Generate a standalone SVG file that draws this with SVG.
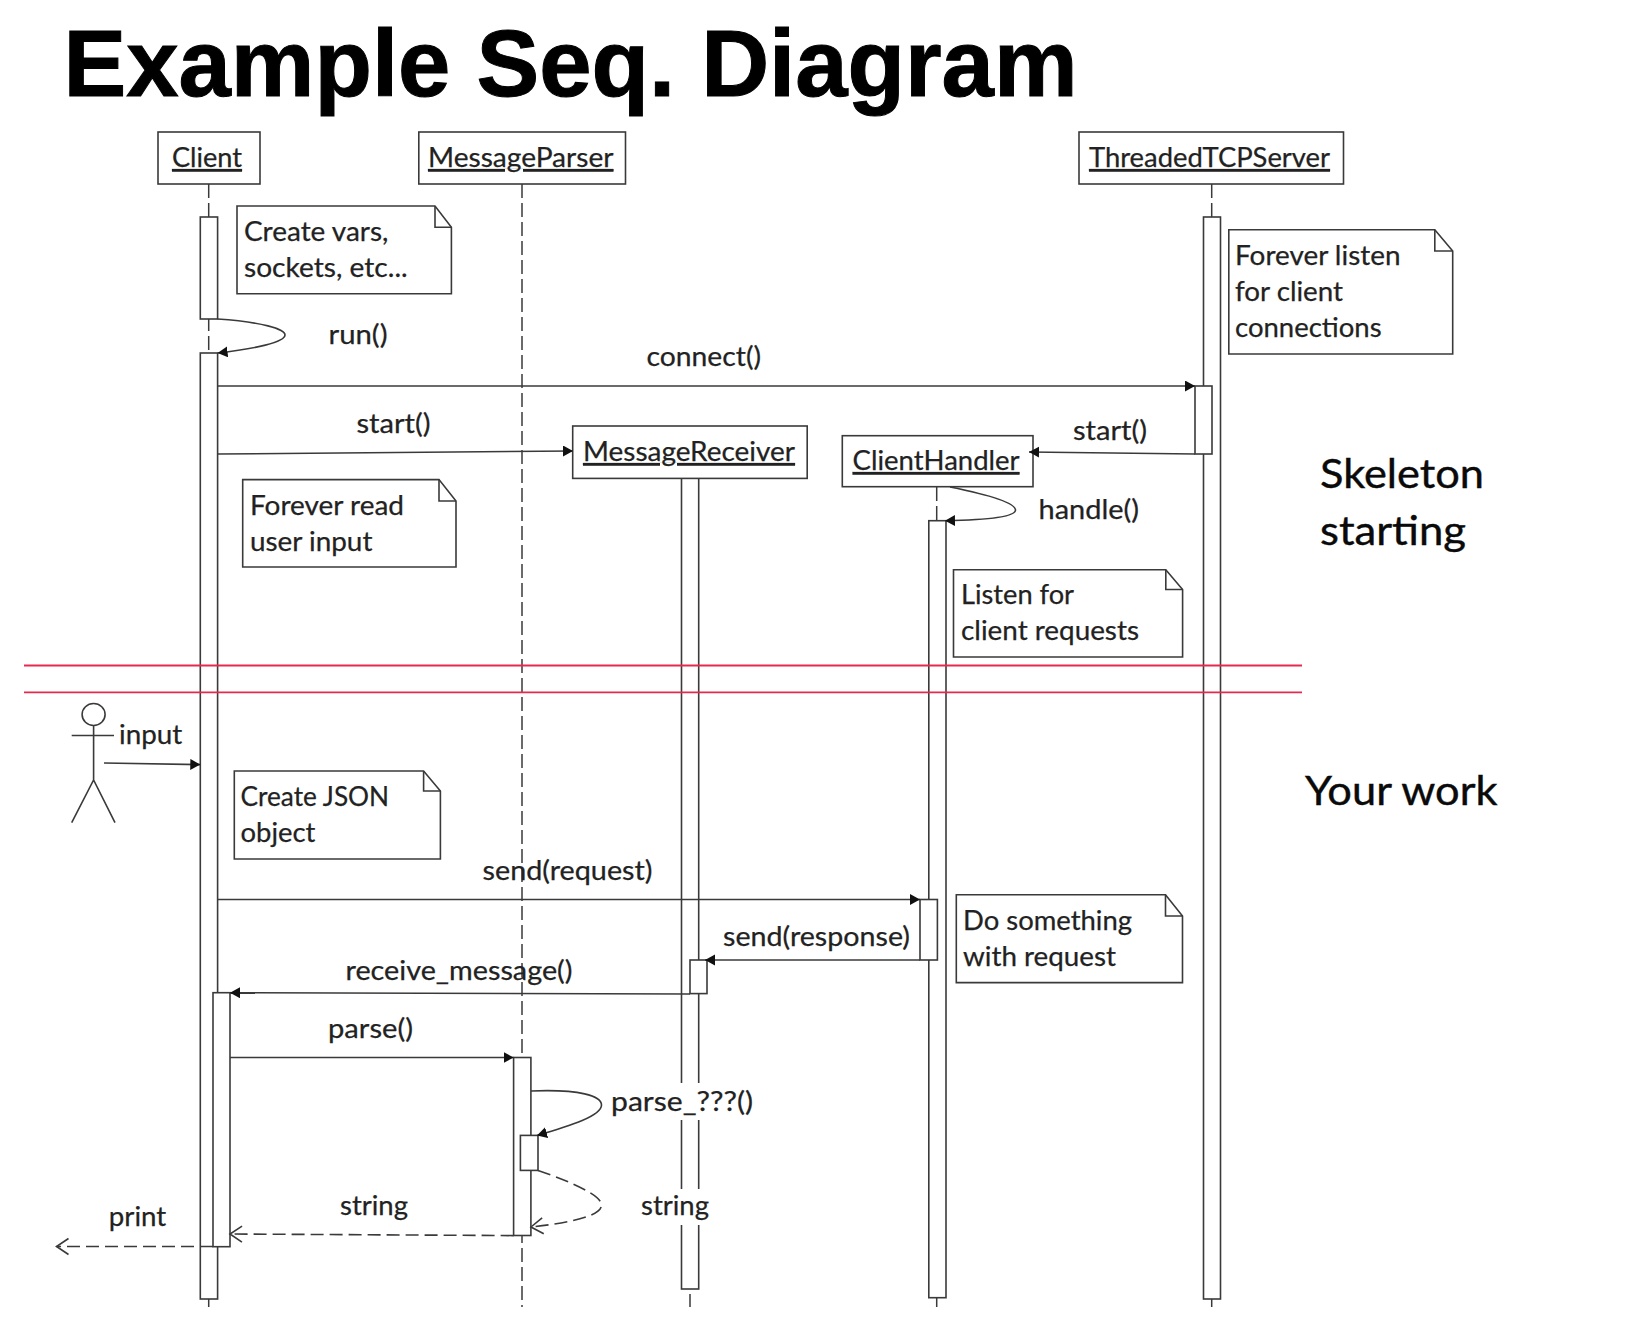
<svg xmlns="http://www.w3.org/2000/svg" width="1644" height="1340" viewBox="0 0 1644 1340">
<style>
text{font-family:Lato,"Liberation Sans",sans-serif;font-size:27px;fill:#222;stroke:#222;stroke-width:.25}
.title{font-family:"Liberation Sans",Arial,sans-serif;font-weight:700;font-size:95px;fill:#000;stroke:#000;stroke-width:1}
.big{font-size:40px;fill:#0a0a0a;stroke:#0a0a0a;stroke-width:.4}
.u{text-decoration:underline}
.b{fill:#fff;stroke:#3a3a3a;stroke-width:1.6}
.l{fill:none;stroke:#3a3a3a;stroke-width:1.6}
.ll{fill:none;stroke:#3a3a3a;stroke-width:1.5;stroke-dasharray:14 5}
.d{stroke-dasharray:13 6}
.red{stroke:#e8284f;stroke-width:1.8;fill:none}
.a{marker-end:url(#solid)}
.o{marker-end:url(#open)}
</style>
<defs>
<marker id="solid" markerUnits="userSpaceOnUse" markerWidth="12" markerHeight="13" refX="10" refY="5.5" orient="auto"><path d="M0 0L10 5.5L0 11Z" fill="#111"/></marker>
<marker id="open" markerUnits="userSpaceOnUse" markerWidth="16" markerHeight="20" refX="13" refY="9" orient="auto"><path d="M1 1L13 9L1 17" fill="none" stroke="#3a3a3a" stroke-width="1.6"/></marker>
</defs>
<rect width="1644" height="1340" fill="#fff"/>
<text class="title" x="63.5" y="96" textLength="1014" lengthAdjust="spacingAndGlyphs">Example Seq. Diagram</text>

<g id="lifelines">
<path class="ll" d="M208.7 184V353M208.7 1299V1307"/>
<path class="ll" d="M522 184V1307"/>
<path class="ll" d="M690 1294V1307"/>
<path class="ll" d="M936.7 487V521M936.7 1298V1307"/>
<path class="ll" d="M1211.7 184V217M1211.7 1299V1307"/>
</g>

<g id="client">
<rect class="b" x="158" y="132" width="102" height="52"/>
<text class="u" x="172" y="167" textLength="70" lengthAdjust="spacingAndGlyphs">Client</text>
<rect class="b" x="200.3" y="217" width="17.3" height="102"/>
<rect class="b" x="200.3" y="353" width="17.3" height="946"/>
<rect class="b" x="213" y="992.7" width="17" height="254"/>
</g>
<g id="message-parser">
<rect class="b" x="418.8" y="132" width="206.7" height="52"/>
<text class="u" x="428" y="167" textLength="185.5" lengthAdjust="spacingAndGlyphs">MessageParser</text>
<rect class="b" x="513.6" y="1057.5" width="17.3" height="178"/>
<rect class="b" x="520.4" y="1135.4" width="17.6" height="35"/>
</g>
<g id="threaded-tcp-server">
<rect class="b" x="1079" y="132" width="264.5" height="52"/>
<text class="u" x="1089" y="167" textLength="241" lengthAdjust="spacingAndGlyphs">ThreadedTCPServer</text>
<rect class="b" x="1203.5" y="217" width="17" height="1082"/>
<rect class="b" x="1195" y="386" width="17" height="68"/>
</g>
<g id="message-receiver">
<rect class="b" x="681.5" y="478" width="17.2" height="811"/>
<rect class="b" x="572.7" y="426" width="234.5" height="52.4"/>
<text class="u" x="583" y="461" textLength="212" lengthAdjust="spacingAndGlyphs">MessageReceiver</text>
<rect class="b" x="690" y="960" width="17" height="33.6"/>
</g>
<g id="client-handler">
<rect class="b" x="928.8" y="520.7" width="17.2" height="777"/>
<rect class="b" x="842.3" y="435.7" width="190.7" height="51"/>
<text class="u" x="852.6" y="470" textLength="167" lengthAdjust="spacingAndGlyphs">ClientHandler</text>
<rect class="b" x="920" y="899.5" width="17.4" height="60.5"/>
</g>

<g id="note-create-vars">
<path class="b" d="M237 206H435L451.4 227.3V293.7H237Z"/><path class="l" d="M435 206V227.3H451.4"/>
<text x="244" y="241" textLength="144.4" lengthAdjust="spacingAndGlyphs">Create vars,</text>
<text x="244" y="277" textLength="163.7" lengthAdjust="spacingAndGlyphs">sockets, etc...</text>
</g>
<g id="note-forever-read">
<path class="b" d="M242.7 479.6H439L456 501V567H242.7Z"/><path class="l" d="M439 479.6V501H456"/>
<text x="250" y="514.5" textLength="154" lengthAdjust="spacingAndGlyphs">Forever read</text>
<text x="250" y="550.5" textLength="122.4" lengthAdjust="spacingAndGlyphs">user input</text>
</g>
<g id="note-forever-listen">
<path class="b" d="M1228.8 229.7H1434.8L1452.7 251V354H1228.8Z"/><path class="l" d="M1434.8 229.7V251H1452.7"/>
<text x="1235" y="265" textLength="165.5" lengthAdjust="spacingAndGlyphs">Forever listen</text>
<text x="1235" y="301" textLength="108" lengthAdjust="spacingAndGlyphs">for client</text>
<text x="1235" y="337" textLength="146.6" lengthAdjust="spacingAndGlyphs">connections</text>
</g>
<g id="note-listen">
<path class="b" d="M953.5 569.7H1165.8L1182.6 589.5V657H953.5Z"/><path class="l" d="M1165.8 569.7V589.5H1182.6"/>
<text x="961" y="604" textLength="113" lengthAdjust="spacingAndGlyphs">Listen for</text>
<text x="961" y="640" textLength="178" lengthAdjust="spacingAndGlyphs">client requests</text>
</g>
<g id="note-json">
<path class="b" d="M234.3 771H423.6L440.4 791V859H234.3Z"/><path class="l" d="M423.6 771V791H440.4"/>
<text x="240.6" y="806" textLength="148.5" lengthAdjust="spacingAndGlyphs">Create JSON</text>
<text x="240.6" y="842" textLength="74.8" lengthAdjust="spacingAndGlyphs">object</text>
</g>
<g id="note-do-something">
<path class="b" d="M956.3 894.8H1165.5L1182.5 916V982.6H956.3Z"/><path class="l" d="M1165.5 894.8V916H1182.5"/>
<text x="963" y="929.5" textLength="169" lengthAdjust="spacingAndGlyphs">Do something</text>
<text x="963" y="966" textLength="153" lengthAdjust="spacingAndGlyphs">with request</text>
</g>
<g id="actor-user">
<ellipse class="l" cx="93.6" cy="714.5" rx="11.5" ry="11"/>
<path class="l" d="M93.6 725.5V780M71.7 735.5H114M71.7 822.7L93.6 780L115 822.7"/>
</g>

<g id="connectors">
<path class="l a" d="M217.6 319C262 322 285 329 285 335C285 342 255 349 217.6 353"/>
<path class="l a" d="M217.6 386H1195"/>
<path class="l a" d="M217.6 454L573 451"/>
<path class="l a" d="M1195 454L1029 452"/>
<path class="l a" d="M950 487C990 495 1015 503 1015.5 510C1015.5 517 985 520 945 520.7"/>
<path class="l a" d="M104 763L200.3 764.6"/>
<path class="l a" d="M217.6 899.5H920"/>
<path class="l a" d="M920 960H705"/>
<path class="l a" d="M690 994L230 992.7"/>
<path class="l a" d="M230 1057.5H513.6"/>
<path class="l a" d="M531 1091C580 1089 601.5 1096 601.5 1105C601.5 1116 570 1126 537 1135.4"/>
<path class="l d o" d="M538 1170.5C575 1183 601.5 1196 601.5 1205C601.5 1216 570 1223 531 1227"/>
<path class="l d o" d="M513.6 1235.6L230 1234"/>
<path class="l d o" d="M213 1246.5H56.5"/>
<rect x="670" y="1083" width="40" height="37" fill="#fff"/>
<rect x="670" y="1189" width="40" height="36" fill="#fff"/>
<text x="328.5" y="344" textLength="59" lengthAdjust="spacingAndGlyphs">run()</text>
<text x="646.5" y="366" textLength="114.5" lengthAdjust="spacingAndGlyphs">connect()</text>
<text x="356.5" y="433" textLength="74" lengthAdjust="spacingAndGlyphs">start()</text>
<text x="1073" y="440" textLength="74" lengthAdjust="spacingAndGlyphs">start()</text>
<text x="1038.5" y="518.5" textLength="100.5" lengthAdjust="spacingAndGlyphs">handle()</text>
<text x="119" y="744" textLength="63.3" lengthAdjust="spacingAndGlyphs">input</text>
<text x="482.5" y="880" textLength="170" lengthAdjust="spacingAndGlyphs">send(request)</text>
<text x="723" y="946" textLength="187" lengthAdjust="spacingAndGlyphs">send(response)</text>
<text x="345.5" y="980" textLength="227" lengthAdjust="spacingAndGlyphs">receive_message()</text>
<text x="328" y="1037.5" textLength="85" lengthAdjust="spacingAndGlyphs">parse()</text>
<text x="611" y="1110.5" textLength="142" lengthAdjust="spacingAndGlyphs">parse_???()</text>
<text x="340" y="1214.5" textLength="68" lengthAdjust="spacingAndGlyphs">string</text>
<text x="641" y="1215" textLength="68" lengthAdjust="spacingAndGlyphs">string</text>
<text x="108.8" y="1226" textLength="57.5" lengthAdjust="spacingAndGlyphs">print</text>
</g>

<g id="dividers">
<path class="red" d="M24 665.5H1302M24 692.3H1302"/>
</g>
<text class="big" x="1320" y="487.5" textLength="164" lengthAdjust="spacingAndGlyphs">Skeleton</text>
<text class="big" x="1320" y="545" textLength="146" lengthAdjust="spacingAndGlyphs">starting</text>
<text class="big" x="1305" y="804.5" textLength="192.5" lengthAdjust="spacingAndGlyphs">Your work</text>
</svg>
